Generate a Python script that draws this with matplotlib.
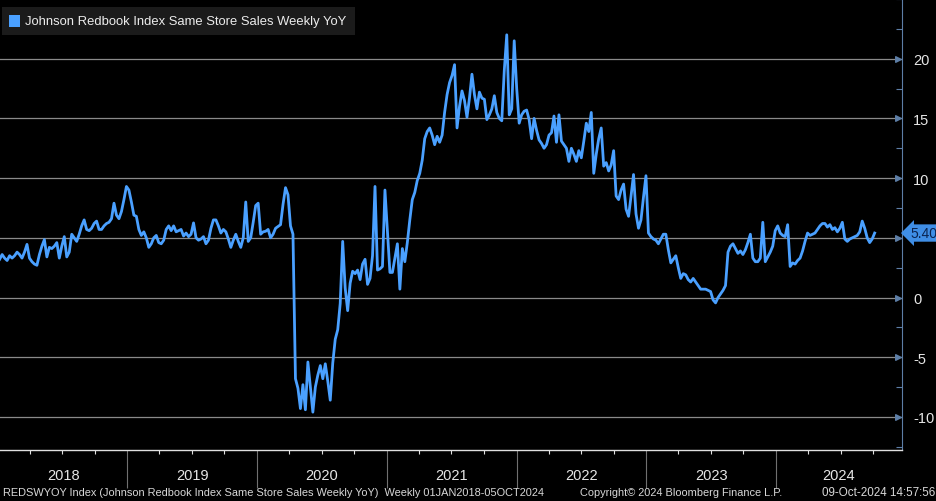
import numpy as np
import pandas as pd
import matplotlib
matplotlib.use('Agg')
import matplotlib.pyplot as plt
import matplotlib.dates as mdates
import matplotlib.transforms as mtransforms
from matplotlib.patches import Rectangle

plt.rcParams['axes.unicode_minus'] = False

# 1 - Weekly YoY values (one list per year, weeks ending Saturday)
years = ['2018', '2019', '2020', '2021', '2022', '2023', '2024']

vals_2018 = [3.2, 3.6, 3.3, 3.1, 3.5, 3.3, 3.5, 3.8, 3.6, 3.3,
             3.8, 4.45, 3.3, 3.0, 2.8, 2.7, 3.6, 4.3, 4.85, 3.4,
             4.2, 4.1, 4.3, 4.6, 3.3, 4.3, 5.1, 3.4, 3.8, 5.3,
             5.0, 4.7, 5.3, 6.0, 6.5, 5.7, 5.6, 5.8, 6.2, 6.4,
             5.7, 5.7, 6.0, 6.2, 6.3, 6.6, 7.9, 6.9, 6.6, 7.2,
             8.2, 9.3]
vals_2019 = [9.0, 8.0, 6.9, 6.8, 5.7, 5.2, 5.5, 5.0, 4.2, 4.5,
             5.0, 5.2, 4.6, 4.5, 4.8, 5.7, 6.0, 5.6, 6.0, 5.5,
             5.6, 5.7, 5.15, 5.4, 5.1, 5.3, 6.25, 5.0, 4.8, 4.9,
             5.1, 4.5, 4.8, 5.8, 6.5, 6.5, 6.0, 5.4, 5.7, 5.5,
             4.9, 4.2, 4.8, 5.3, 4.7, 4.2, 5.0, 8.0, 4.7, 5.0,
             6.3, 7.7]
vals_2020 = [7.9, 5.3, 5.5, 5.55, 5.7, 5.0, 5.3, 5.8, 5.95, 6.1,
             7.8, 9.2, 8.6, 6.0, 5.3, -6.8, -7.6, -9.3, -7.3, -9.4,
             -5.4, -7.5, -9.6, -7.5, -6.5, -5.7, -6.8, -5.55, -7.0, -8.6,
             -5.5, -3.5, -2.7, -0.5, 4.7, 0.8, -1.1, 1.2, 2.2, 2.0,
             2.3, 1.5, 2.8, 3.2, 1.1, 1.6, 3.5, 9.3, 2.3, 2.4,
             2.6, 9.0]
vals_2021 = [5.5, 2.1, 2.1, 3.3, 4.5, 0.7, 4.1, 3.0, 4.6, 6.5,
             8.2, 8.8, 9.8, 10.4, 11.5, 13.3, 13.9, 14.2, 13.6, 12.8,
             13.5, 13.0, 13.6, 15.5, 17.0, 18.0, 18.6, 19.5, 14.2, 16.0,
             17.3, 16.5, 15.1, 16.7, 18.7, 17.0, 15.8, 17.2, 16.7, 16.6,
             14.9, 15.3, 15.8, 16.9, 15.5, 15.0, 14.8, 19.0, 22.0, 15.3,
             15.8, 21.5]
vals_2022 = [17.5, 14.6, 15.3, 15.6, 15.7, 14.9, 13.3, 15.0, 14.0, 13.2,
             12.9, 12.5, 12.8, 13.6, 13.8, 15.2, 13.0, 15.3, 13.1, 12.8,
             12.5, 11.4, 12.5, 12.0, 11.4, 12.3, 11.7, 13.1, 14.6, 13.9,
             15.5, 10.4, 12.0, 13.3, 14.2, 11.0, 11.3, 10.6, 11.1, 12.3,
             8.5, 8.2, 9.0, 9.5, 7.4, 6.8, 8.5, 10.3, 7.0, 5.8,
             6.5, 8.4, 10.2]
vals_2023 = [5.4, 5.1, 4.9, 4.8, 4.5, 4.9, 5.3, 5.3, 4.0, 2.9,
             3.2, 3.5, 2.5, 1.6, 2.0, 1.9, 1.5, 1.3, 1.6, 1.3,
             1.0, 0.7, 0.7, 0.7, 0.6, 0.5, -0.2, -0.45, 0.0, 0.3,
             0.6, 1.0, 3.8, 4.3, 4.5, 4.1, 3.7, 3.9, 3.6, 4.0,
             4.6, 5.3, 3.3, 3.0, 3.0, 3.3, 6.3, 3.0, 3.4, 3.8,
             4.3, 5.6]
vals_2024 = [6.0, 5.4, 5.2, 5.1, 6.1, 2.6, 2.9, 2.8, 3.1, 3.3,
             3.9, 4.7, 5.4, 5.2, 5.3, 5.4, 5.7, 6.0, 6.2, 6.2,
             5.9, 6.1, 5.7, 5.85, 5.5, 5.8, 6.3, 4.9, 4.7, 4.9,
             5.0, 5.1, 5.2, 5.5, 6.4, 5.8, 5.0, 4.6, 4.9, 5.4]

last_value = 5.40
series_name = 'Johnson Redbook Index Same Store Sales Weekly YoY'
footer_left = 'REDSWYOY Index (Johnson Redbook Index Same Store Sales Weekly YoY)  Weekly 01JAN2018-05OCT2024'
footer_mid = 'Copyright\u00a9 2024 Bloomberg Finance L.P.'
footer_right = '09-Oct-2024 14:57:56'

# 2 - Build the weekly series
dates = []
values = []
for yr, vals in zip(years, [vals_2018, vals_2019, vals_2020, vals_2021,
                            vals_2022, vals_2023, vals_2024]):
    d = pd.date_range(f'{yr}-01-01', f'{yr}-12-31', freq='W-SAT')[:len(vals)]
    dates.extend(d)
    values.extend(vals)
serie = pd.Series(values, index=pd.DatetimeIndex(dates))

# 3 - Figure setup
font = ['Liberation Sans', 'DejaVu Sans']
line_color = '#4aa0ff'
axis_color = '#5d7ea6'
text_color = '#e6e6e6'

fig = plt.figure(figsize=(9.37, 5.02), dpi=100, facecolor='black')
ax = fig.add_axes([0.0, 51 / 502, 902 / 937, 451 / 502])
ax.set_facecolor('black')

ax.plot(serie.index, serie.values, color=line_color, lw=2.0, zorder=3,
        solid_joinstyle='round')

ax.set_xlim(pd.Timestamp('2018-01-07'), pd.Timestamp('2024-12-21'))
ax.set_ylim(-12.77, 25.0)

# 4 - Right axis, grid
ax.yaxis.tick_right()
ax.set_yticks(np.arange(-10, 25, 5))
ax.set_yticks(np.arange(-12.5, 25.1, 2.5), minor=True)
ax.yaxis.grid(True, which='major', color='#8a8a8a', lw=0.9)
ax.tick_params(axis='y', which='major', direction='in', length=0, pad=8,
               labelsize=10.5, labelcolor=text_color)
ax.tick_params(axis='y', which='minor', direction='in', length=4,
               color=axis_color, width=0.8)
for lbl in ax.get_yticklabels():
    lbl.set_family(font)
ax.yaxis.get_major_ticks()[3].label2.set_visible(False)

# arrowheads on the major ticks
trans_y = mtransforms.blended_transform_factory(ax.transAxes, ax.transData)
ax.scatter(np.full(7, 0.996), np.arange(-10, 25, 5), marker='>', s=16,
           color=axis_color, transform=trans_y, zorder=5, clip_on=False)

for side in ['top', 'left']:
    ax.spines[side].set_visible(False)
ax.spines['right'].set_color(axis_color)
ax.spines['bottom'].set_color('#e0e0e0')
ax.spines['bottom'].set_linewidth(1.0)

# 5 - X axis: year dividers and quarter ticks
year_starts = [pd.Timestamp(f'{y}-01-01') for y in years[1:]]
quarters = pd.date_range('2018-04-01', '2024-12-01', freq='QS')
ax.set_xticks(year_starts)
ax.set_xticks([q for q in quarters if q.month != 1], minor=True)
ax.tick_params(axis='x', which='major', direction='out', length=27,
               color='#707070', width=0.8, labelbottom=False)
ax.tick_params(axis='x', which='minor', direction='out', length=3,
               color='#e0e0e0', width=0.8)

trans_x = mtransforms.blended_transform_factory(ax.transData, ax.transAxes)
left_lim, right_lim = ax.get_xlim()
for yr in years:
    start = max(mdates.date2num(pd.Timestamp(f'{yr}-01-01')), left_lim)
    end = min(mdates.date2num(pd.Timestamp(f'{int(yr) + 1}-01-01')), right_lim)
    ax.text((start + end) / 2, -0.056, yr, transform=trans_x, ha='center',
            va='center', color=text_color, fontsize=10.5, family=font)

# 6 - Last value tag
ax.text(1.009, last_value, f'{last_value:.2f}', transform=trans_y, ha='left',
        va='center', color='#0a2350', fontsize=10, family=font,
        bbox=dict(boxstyle='larrow,pad=0.12', fc='#3f8ee6', ec='none'),
        zorder=6, clip_on=False)

# 7 - Legend box
fig.patches.append(Rectangle((2 / 937, 1 - 36 / 502), 353 / 937, 28 / 502,
                             transform=fig.transFigure, fc='#1b1b1b', ec='none'))
fig.patches.append(Rectangle((9 / 937, 1 - 28 / 502), 11 / 937, 12 / 502,
                             transform=fig.transFigure, fc=line_color, ec='none'))
fig.text(25 / 937, 1 - 22 / 502, series_name, color='#ececec', fontsize=9.4,
         family=font, va='center', ha='left')

# 8 - Footer
fig.text(3 / 937, 9 / 502, footer_left, color='#d8d8d8', fontsize=7.9,
         family=font, va='center', ha='left')
fig.text(580 / 937, 9 / 502, footer_mid, color='#d8d8d8', fontsize=7.9,
         family=font, va='center', ha='left')
fig.text(935 / 937, 9 / 502, footer_right, color='#d8d8d8', fontsize=8.4,
         family=font, va='center', ha='right')

plt.savefig('out.png', dpi=100, facecolor='black')
